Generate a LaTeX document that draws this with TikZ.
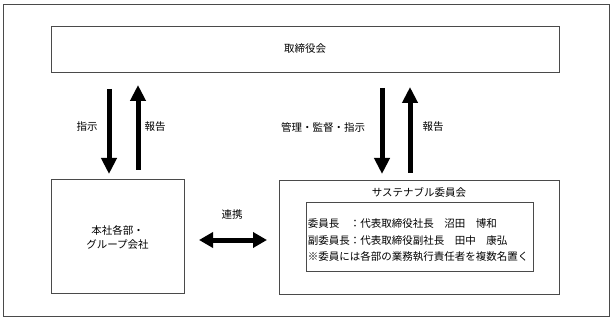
\documentclass[tikz,border=0pt]{standalone}
\usepackage{fontspec}
\setmainfont{Noto Sans CJK JP}
\usetikzlibrary{arrows.meta}
\definecolor{framegray}{HTML}{4A4A4A}
\tikzset{
  boxline/.style={draw=framegray, line width=0.9pt},
  jtext/.style={font=\fontsize{10.5pt}{16.5pt}\selectfont, text=black, inner sep=0pt},
  fatarrow/.style={line width=5pt, black, -{Triangle[width=15pt,length=16pt]}},
  fatboth/.style={line width=5pt, black, {Triangle[width=15pt,length=14pt]}-{Triangle[width=15pt,length=14pt]}}
}
\begin{document}
\begin{tikzpicture}[x=1pt,y=-1pt]
\useasboundingbox (0,0) rectangle (612,320);
\fill[white] (0,0) rectangle (612,320);
% outer frame
\node[boxline, minimum width=606pt, minimum height=312pt, inner sep=0pt] (frame) at (306,160) {};
% board
\node[boxline, minimum width=508pt, minimum height=46pt, inner sep=0pt] (board) at (305,49) {};
\node[jtext] (boardlabel) at (305,48.5) {取締役会};
% left box
\node[boxline, minimum width=133pt, minimum height=114pt, inner sep=0pt] (dept) at (117.5,236) {};
\node[jtext, font=\fontsize{10.5pt}{13.5pt}\selectfont, align=center] (deptlabel) at (117.5,237.5) {本社各部・\\グループ会社};
% right box
\node[boxline, minimum width=280pt, minimum height=114pt, inner sep=0pt] (comm) at (419,237) {};
\node[jtext] (commlabel) at (419,192) {サステナブル委員会};
\node[boxline, minimum width=227pt, minimum height=69pt, inner sep=0pt] (members) at (419.5,236.5) {};
\node[jtext, anchor=west, align=left] (membertext) at ([xshift=2pt,yshift=-4pt]members.west) {委員長　：代表取締役社長　沼田　博和\\副委員長：代表取締役副社長　田中　康弘\\※委員には各部の業務執行責任者を複数名置く};
% arrow end points
\coordinate (a1s) at (109,89);  \coordinate (a1e) at (109,174);
\coordinate (a2s) at (138,170); \coordinate (a2e) at (138,85);
\coordinate (a3s) at (382,88);  \coordinate (a3e) at (382,174);
\coordinate (a4s) at (410,173); \coordinate (a4e) at (410,87);
\coordinate (a5s) at (199,240); \coordinate (a5e) at (267,240);
\draw[fatarrow] (a1s) -- (a1e);
\draw[fatarrow] (a2s) -- (a2e);
\draw[fatarrow] (a3s) -- (a3e);
\draw[fatarrow] (a4s) -- (a4e);
\draw[fatboth] (a5s) -- (a5e);
% labels
\node[jtext] (l1) at (87,127) {指示};
\node[jtext] (l2) at (155,127) {報告};
\node[jtext] (l3) at (323,127) {管理・監督・指示};
\node[jtext] (l4) at (433,127) {報告};
\node[jtext] (l5) at (232,215) {連携};
\end{tikzpicture}
\end{document}
